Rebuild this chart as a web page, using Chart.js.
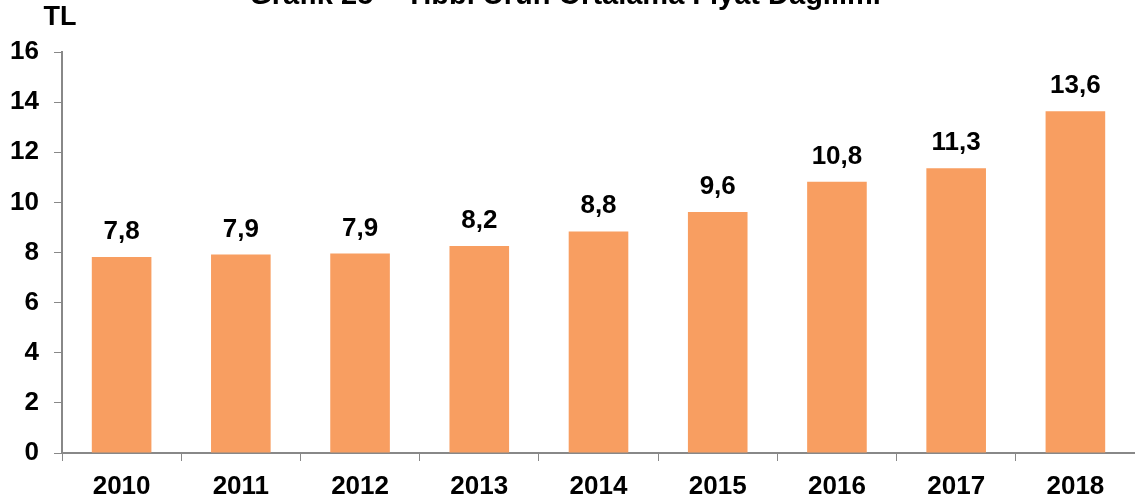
<!DOCTYPE html>
<html>
<head>
<meta charset="utf-8">
<script src="https://cdn.jsdelivr.net/npm/chart.js@4"></script>
<style>
  body { margin: 0; background: #fff; }
  #wrap { width: 1135px; height: 502px; position: relative; }
</style>
</head>
<body>
<div id="wrap"><canvas id="barChart" width="1135" height="502"></canvas></div>
<script>
// chart data
const years = ['2010', '2011', '2012', '2013', '2014', '2015', '2016', '2017', '2018'];
const prices = [7.82, 7.92, 7.96, 8.26, 8.84, 9.62, 10.82, 11.36, 13.64];
const priceLabels = ['7,8', '7,9', '7,9', '8,2', '8,8', '9,6', '10,8', '11,3', '13,6'];
const yTicks = [0, 2, 4, 6, 8, 10, 12, 14, 16];

const titleText = 'Grafik 25 \u2013 T\u0131bbi \u00dcr\u00fcn Ortalama Fiyat Da\u011f\u0131l\u0131m\u0131';
const fontFamily = '"Liberation Sans", Arial, sans-serif';

// draws the clipped title, the unit label and the value labels
const extras = {
  id: 'extras',
  afterDatasetsDraw(chart) {
    const ctx = chart.ctx;
    ctx.save();
    ctx.fillStyle = '#000';
    ctx.textAlign = 'center';
    ctx.textBaseline = 'alphabetic';
    ctx.font = 'bold 29px ' + fontFamily;
    ctx.fillText(titleText, 565, 4);

    ctx.font = 'bold 27px ' + fontFamily;
    ctx.fillText('TL', 60, 25);

    ctx.font = 'bold 26px ' + fontFamily;
    const meta = chart.getDatasetMeta(0);
    meta.data.forEach((bar, i) => {
      ctx.fillText(priceLabels[i], bar.x, bar.y - 18);
    });
    ctx.restore();
  }
};

const ctx = document.getElementById('barChart').getContext('2d');
new Chart(ctx, {
  type: 'bar',
  data: {
    labels: years,
    datasets: [{
      data: prices,
      backgroundColor: '#F89E61',
      borderWidth: 0,
      barPercentage: 0.5,
      categoryPercentage: 1.0
    }]
  },
  options: {
    responsive: false,
    animation: false,
    layout: { padding: { top: 52, left: 0, right: 0, bottom: 0 } },
    plugins: {
      legend: { display: false },
      tooltip: { enabled: false }
    },
    scales: {
      x: {
        offset: true,
        grid: {
          display: true,
          offset: true,
          drawOnChartArea: false,
          drawTicks: true,
          tickLength: 8,
          color: '#888'
        },
        border: { color: '#888', width: 2 },
        ticks: {
          color: '#000',
          font: { family: fontFamily, size: 26, weight: 'bold' },
          padding: 10
        },
        afterFit(scale) { scale.height = 49; }
      },
      y: {
        min: 0,
        max: 16,
        afterBuildTicks(scale) { scale.ticks = yTicks.map(v => ({ value: v })); },
        grid: {
          display: true,
          drawOnChartArea: false,
          drawTicks: true,
          tickLength: 8,
          color: '#888'
        },
        border: { color: '#888', width: 2 },
        ticks: {
          color: '#000',
          font: { family: fontFamily, size: 26, weight: 'bold' },
          padding: 15
        },
        afterFit(scale) { scale.width = 62; }
      }
    }
  },
  plugins: [extras]
});
</script>
</body>
</html>
